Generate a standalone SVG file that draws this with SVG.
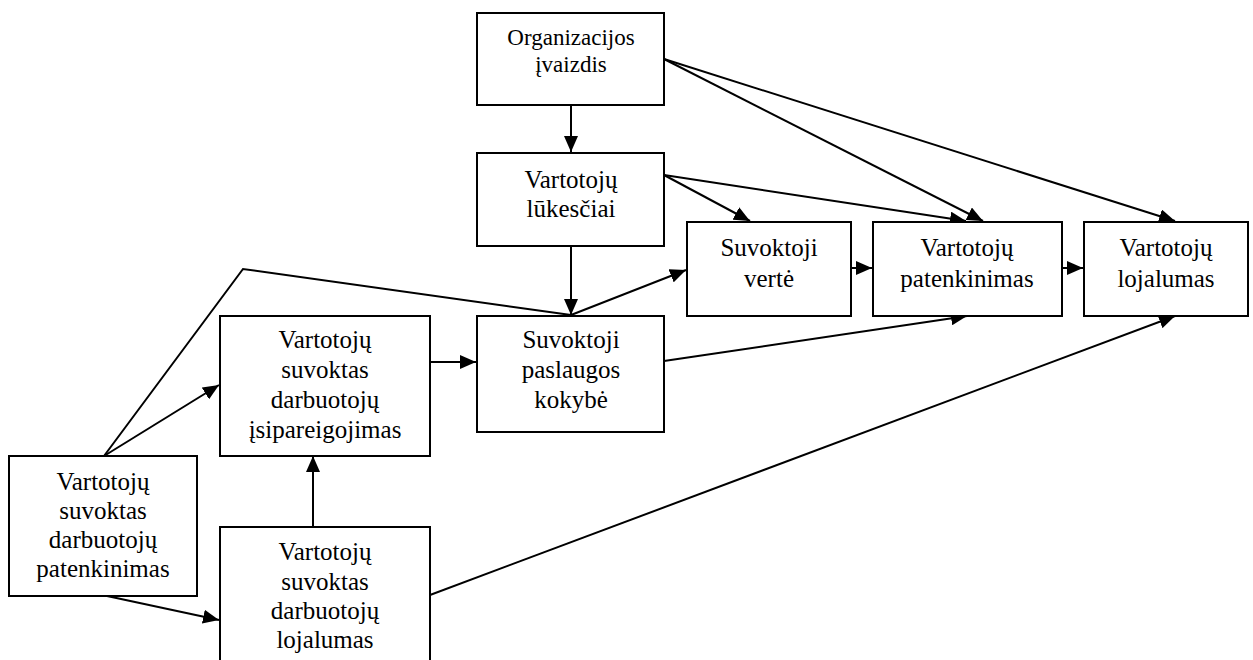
<svg xmlns="http://www.w3.org/2000/svg" width="1253" height="660" viewBox="0 0 1253 660">
<style>
.box{fill:#fff;stroke:#000;stroke-width:2}
.t{font-family:'Liberation Serif','DejaVu Serif',serif;font-size:25px;fill:#000;text-anchor:middle}
.t2{font-family:'Liberation Serif','DejaVu Serif',serif;font-size:23px;fill:#000;text-anchor:middle}
.ln{fill:none;stroke:#000;stroke-width:2}
</style>
<defs>
<marker id="ah" markerUnits="userSpaceOnUse" markerWidth="16" markerHeight="14" refX="16" refY="7" orient="auto">
<path d="M0,0 L16,7 L0,14 Z" fill="#000"/>
</marker>
</defs>
<rect width="1253" height="660" fill="#fff"/>
<g id="connectors">
<line class="ln" x1="571" y1="105" x2="571" y2="152" marker-end="url(#ah)"/>
<line class="ln" x1="664" y1="59" x2="983" y2="221" marker-end="url(#ah)"/>
<line class="ln" x1="664" y1="59" x2="1175" y2="221" marker-end="url(#ah)"/>
<line class="ln" x1="664" y1="175" x2="750" y2="221" marker-end="url(#ah)"/>
<line class="ln" x1="664" y1="175" x2="966" y2="221" marker-end="url(#ah)"/>
<line class="ln" x1="571" y1="246" x2="571" y2="315" marker-end="url(#ah)"/>
<line class="ln" x1="571" y1="315" x2="686" y2="270" marker-end="url(#ah)"/>
<line class="ln" x1="851" y1="268" x2="872" y2="268" marker-end="url(#ah)"/>
<line class="ln" x1="1062" y1="268" x2="1083" y2="268" marker-end="url(#ah)"/>
<line class="ln" x1="430" y1="362" x2="476" y2="362" marker-end="url(#ah)"/>
<line class="ln" x1="664" y1="361" x2="967" y2="316" marker-end="url(#ah)"/>
<polyline class="ln" points="104,456 243,269 571,315"/>
<line class="ln" x1="104" y1="456" x2="219" y2="385" marker-end="url(#ah)"/>
<line class="ln" x1="313" y1="527" x2="313" y2="456" marker-end="url(#ah)"/>
<line class="ln" x1="107" y1="596" x2="219" y2="620" marker-end="url(#ah)"/>
<line class="ln" x1="430" y1="595" x2="1175" y2="316" marker-end="url(#ah)"/>
</g>
<g id="org">
<rect class="box" x="477" y="13" width="187" height="92"/>
<text class="t2" x="571" y="45">Organizacijos</text>
<text class="t2" x="571" y="72">įvaizdis</text>
</g>
<g id="lukesciai">
<rect class="box" x="477" y="153" width="187" height="93"/>
<text class="t" x="571" y="188">Vartotojų</text>
<text class="t" x="571" y="217">lūkesčiai</text>
</g>
<g id="verte">
<rect class="box" x="687" y="222" width="164" height="94"/>
<text class="t" x="769" y="256">Suvoktoji</text>
<text class="t" x="769" y="287">vertė</text>
</g>
<g id="patenkinimas">
<rect class="box" x="873" y="222" width="189" height="94"/>
<text class="t" x="967" y="256">Vartotojų</text>
<text class="t" x="967" y="287">patenkinimas</text>
</g>
<g id="lojalumas">
<rect class="box" x="1084" y="222" width="164" height="94"/>
<text class="t" x="1166" y="256">Vartotojų</text>
<text class="t" x="1166" y="287">lojalumas</text>
</g>
<g id="kokybe">
<rect class="box" x="477" y="316" width="187" height="116"/>
<text class="t" x="571" y="348">Suvoktoji</text>
<text class="t" x="571" y="378">paslaugos</text>
<text class="t" x="571" y="408">kokybė</text>
</g>
<g id="isipareigojimas">
<rect class="box" x="220" y="316" width="210" height="140"/>
<text class="t" x="325" y="348">Vartotojų</text>
<text class="t" x="325" y="378">suvoktas</text>
<text class="t" x="325" y="408">darbuotojų</text>
<text class="t" x="325" y="438">įsipareigojimas</text>
</g>
<g id="darb-patenkinimas">
<rect class="box" x="9" y="456" width="188" height="140"/>
<text class="t" x="103" y="490">Vartotojų</text>
<text class="t" x="103" y="519">suvoktas</text>
<text class="t" x="103" y="548">darbuotojų</text>
<text class="t" x="103" y="577">patenkinimas</text>
</g>
<g id="darb-lojalumas">
<rect class="box" x="220" y="527" width="210" height="140"/>
<text class="t" x="325" y="560">Vartotojų</text>
<text class="t" x="325" y="590">suvoktas</text>
<text class="t" x="325" y="619">darbuotojų</text>
<text class="t" x="325" y="648">lojalumas</text>
</g>
</svg>
